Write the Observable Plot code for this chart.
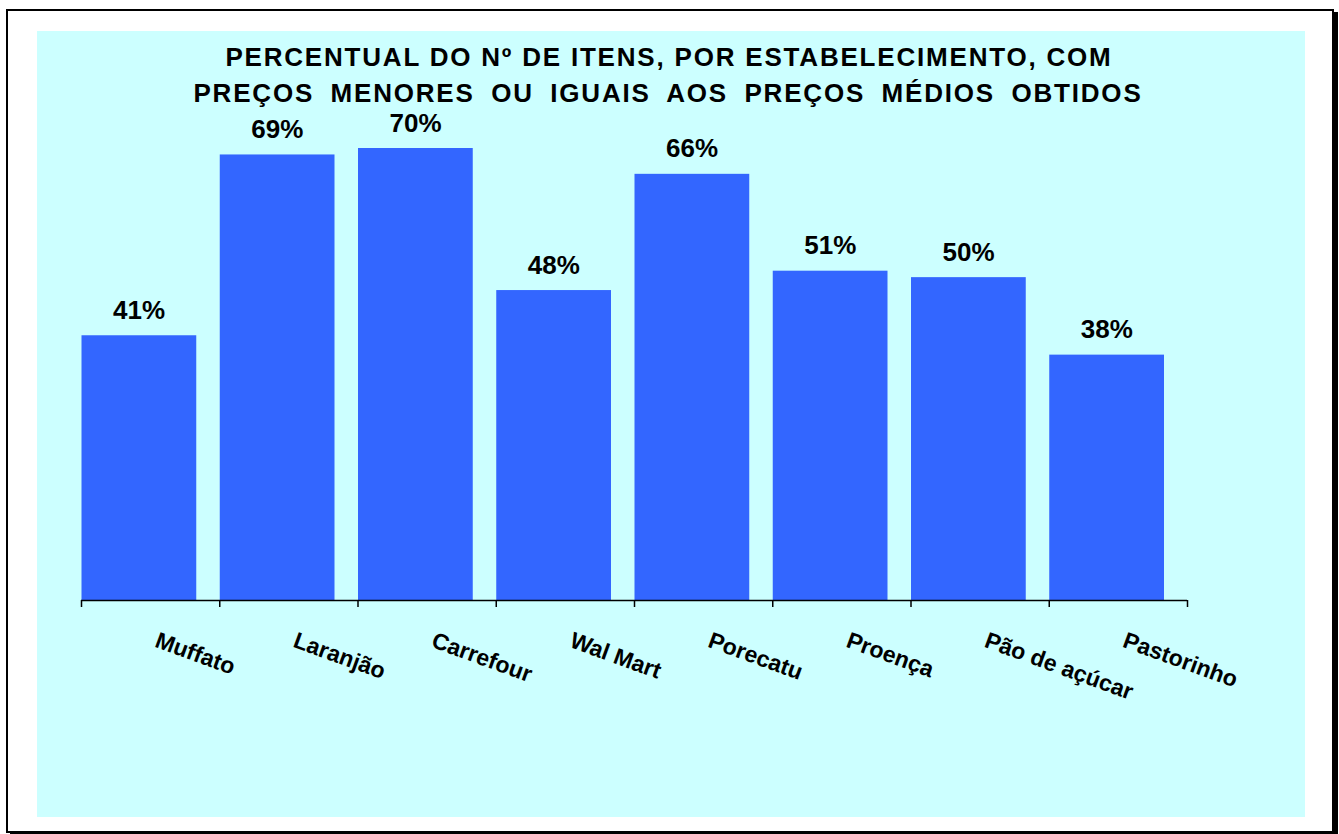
<!DOCTYPE html>
<html>
<head>
<meta charset="utf-8">
<script src="https://cdn.jsdelivr.net/npm/d3@7"></script>
<script src="https://cdn.jsdelivr.net/npm/@observablehq/plot@0.6"></script>
<style>
  html, body { margin: 0; padding: 0; background: #ffffff; }
  body { width: 1339px; height: 834px; position: relative; overflow: hidden; font-family: "Liberation Sans", Arial, sans-serif; }
  #frame { position: absolute; left: 6px; top: 9px; width: 1324px; height: 820px; border: 2.5px solid #000; box-shadow: 4px 3px 0 #000; background: #fff; }
  #panel { position: absolute; left: 37px; top: 31px; width: 1268px; height: 786px; background: #CCFFFF; }
  #title { position: absolute; left: 37px; width: 1268px; top: 39px; text-align: center; font-weight: bold; font-size: 26px; line-height: 36px; color: #000; }
  #title .l1 { letter-spacing: 1.8px; margin-left: -4px; }
  #title .l2 { letter-spacing: 1.8px; word-spacing: 7.5px; margin-left: -6px; }
  #chart { position: absolute; left: 0; top: 0; }
</style>
</head>
<body>
<div id="frame"></div>
<div id="panel"></div>
<div id="title"><div class="l1">PERCENTUAL DO Nº DE ITENS, POR ESTABELECIMENTO, COM</div><div class="l2">PREÇOS MENORES OU IGUAIS AOS PREÇOS MÉDIOS OBTIDOS</div></div>
<div id="chart"></div>
<script>
const categories = ["Muffato", "Laranjão", "Carrefour", "Wal Mart", "Porecatu", "Proença", "Pão de açúcar", "Pastorinho"];
const values = [41, 69, 70, 48, 66, 51, 50, 38];
const valueLabels = ["41%", "69%", "70%", "48%", "66%", "51%", "50%", "38%"];

const data = categories.map((c, i) => ({i, category: c, value: values[i], label: valueLabels[i]}));

const chart = Plot.plot({
  width: 1339,
  height: 834,
  marginLeft: 81,
  marginRight: 152,
  marginTop: 148,
  marginBottom: 234,
  style: {background: "transparent", fontFamily: "'Liberation Sans', Arial, sans-serif", overflow: "visible"},
  x: {type: "linear", domain: [0, categories.length], axis: null},
  y: {domain: [0, 70], axis: null},
  marks: [
    Plot.rectY(data, {x1: "i", x2: d => d.i + 1, y: "value", fill: "#3366FF", insetLeft: 0.5, insetRight: 23}),
    Plot.ruleY([0], {stroke: "#000", strokeWidth: 1.5}),
    Plot.axisX(d3.range(categories.length + 1), {tickSize: 7, tickFormat: () => "", label: null, stroke: "#000", strokeWidth: 1.5}),
    Plot.text(data, {x: d => d.i + 0.5, y: "value", text: "label", dx: -11.5, dy: -17, lineAnchor: "bottom", fontSize: 26, fontWeight: "bold", fill: "#000"}),
    Plot.text(data, {x: d => d.i + 0.5, y: () => 0, text: "category", dx: 3, dy: 46, rotate: 20, textAnchor: "start", lineAnchor: "bottom", fontSize: 23, fontWeight: "bold", fill: "#000"})
  ]
});
document.getElementById("chart").appendChild(chart);
</script>
</body>
</html>
